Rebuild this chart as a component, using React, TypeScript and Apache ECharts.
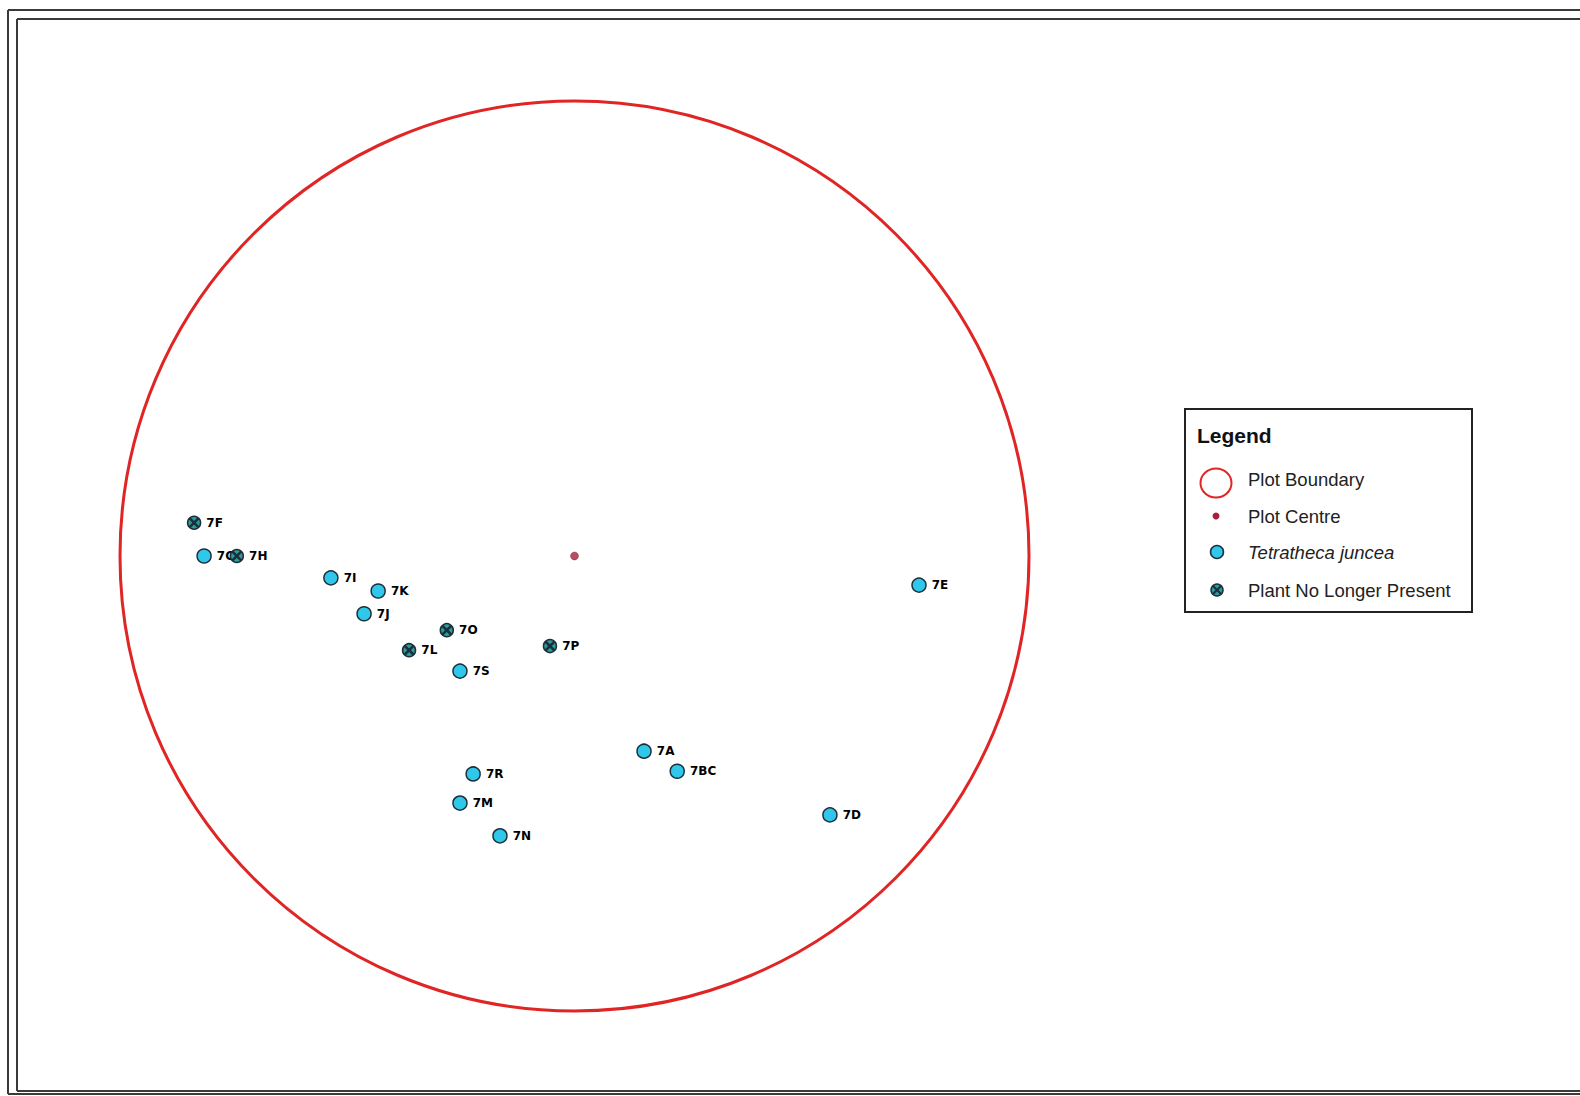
import React, { useEffect, useRef } from "react";
import * as echarts from "echarts";

// Plot coordinates in metres relative to the plot centre (plot radius = 10)
const plotRadius = 10;
const plotCentre = [0, 0];

const plantIds = ["7F", "7G", "7H", "7I", "7K", "7J", "7O", "7L", "7S", "7P", "7A", "7BC", "7R", "7M", "7N", "7D", "7E"];
const plantX = [-8.37, -8.15, -7.43, -5.36, -4.32, -4.63, -2.81, -3.64, -2.52, -0.54, 1.53, 2.26, -2.23, -2.52, -1.64, 5.62, 7.58];
const plantY = [0.73, 0.0, 0.0, -0.48, -0.77, -1.27, -1.63, -2.07, -2.53, -1.98, -4.29, -4.73, -4.79, -5.43, -6.15, -5.69, -0.64];
const plantPresent = [false, true, false, true, true, true, false, false, true, false, true, true, true, true, true, true, true];

const legendItems = ["Plot Boundary", "Plot Centre", "Tetratheca juncea", "Plant No Longer Present"];

const CYAN = "#30c8ea";
const TEAL = "#2a9e9c";
const DARK = "#1d2f3a";
const RED = "#e02525";

export default function App() {
  const ref = useRef<HTMLDivElement>(null);

  useEffect(() => {
    document.body.style.margin = "0";
    document.body.style.overflow = "hidden";
    const chart = echarts.init(ref.current!, null, { renderer: "svg" });

    const alive: any[] = [];
    const dead: any[] = [];
    plantIds.forEach((id, i) => {
      const d = [plantX[i], plantY[i], id];
      if (plantPresent[i]) alive.push(d);
      else dead.push(d);
    });

    const labelStyle = {
      show: true,
      position: "right",
      distance: 5,
      formatter: (p: any) => p.value[2],
      color: "#000",
      fontFamily: "DejaVu Sans",
      fontWeight: "bold",
      fontSize: 12,
    };

    const font = "Liberation Sans, Arial, sans-serif";
    const frame = { stroke: "#3a3a3a", lineWidth: 2 };

    chart.setOption({
      animation: false,
      backgroundColor: "#ffffff",
      grid: { left: 120, top: 101, width: 909, height: 910 },
      xAxis: { type: "value", min: -10, max: 10, show: false },
      yAxis: { type: "value", min: -10, max: 10, show: false },
      series: [
        {
          type: "custom",
          z: 1,
          data: [[plotCentre[0], plotCentre[1], plotRadius]],
          renderItem: (params: any, api: any) => {
            const c = api.coord([api.value(0), api.value(1)]);
            const s = api.size([api.value(2), api.value(2)]);
            return {
              type: "ellipse",
              shape: { cx: c[0], cy: c[1], rx: s[0], ry: s[1] },
              style: { fill: "none", stroke: RED, lineWidth: 3 },
              silent: true,
            };
          },
        },
        {
          type: "scatter",
          z: 2,
          data: [plotCentre],
          symbol: "circle",
          symbolSize: 8,
          itemStyle: { color: "#a8203c", borderColor: "#7a1a2a", borderWidth: 0.5 },
        },
        {
          type: "scatter",
          z: 3,
          data: alive,
          symbol: "circle",
          symbolSize: 14,
          itemStyle: { color: CYAN, borderColor: DARK, borderWidth: 1.5, opacity: 1 },
          label: labelStyle,
        },
        {
          type: "scatter",
          z: 4,
          data: dead,
          symbol: "circle",
          symbolSize: 13,
          itemStyle: { color: TEAL, borderColor: DARK, borderWidth: 1.5, opacity: 1 },
          label: labelStyle,
        },
        {
          type: "custom",
          z: 5,
          data: dead,
          renderItem: (params: any, api: any) => {
            const c = api.coord([api.value(0), api.value(1)]);
            const r = 4.6;
            return {
              type: "group",
              children: [
                {
                  type: "line",
                  shape: { x1: c[0] - r, y1: c[1] - r, x2: c[0] + r, y2: c[1] + r },
                  style: { stroke: DARK, lineWidth: 2.6 },
                },
                {
                  type: "line",
                  shape: { x1: c[0] - r, y1: c[1] + r, x2: c[0] + r, y2: c[1] - r },
                  style: { stroke: DARK, lineWidth: 2.6 },
                },
              ],
            };
          },
        },
      ],
      graphic: [
        { type: "line", shape: { x1: 8, y1: 10, x2: 1580, y2: 10 }, style: frame, silent: true },
        { type: "line", shape: { x1: 8, y1: 10, x2: 8, y2: 1094 }, style: frame, silent: true },
        { type: "line", shape: { x1: 8, y1: 1094, x2: 1580, y2: 1094 }, style: frame, silent: true },
        { type: "line", shape: { x1: 17, y1: 19, x2: 1580, y2: 19 }, style: frame, silent: true },
        { type: "line", shape: { x1: 17, y1: 19, x2: 17, y2: 1091 }, style: frame, silent: true },
        { type: "line", shape: { x1: 17, y1: 1091, x2: 1580, y2: 1091 }, style: frame, silent: true },
        {
          type: "group",
          children: [
            { type: "rect", shape: { x: 1185, y: 409, width: 287, height: 203 }, style: { fill: "#fff", stroke: "#222", lineWidth: 2 } },
            { type: "text", x: 1197, y: 435, style: { text: "Legend", fontFamily: font, fontWeight: "bold", fontSize: 21, fill: "#111", verticalAlign: "middle" } },
            { type: "ellipse", shape: { cx: 1216, cy: 483, rx: 15.5, ry: 14.5 }, style: { fill: "none", stroke: RED, lineWidth: 2 } },
            { type: "text", x: 1248, y: 479, style: { text: legendItems[0], fontFamily: font, fontSize: 18.5, fill: "#222", verticalAlign: "middle" } },
            { type: "circle", shape: { cx: 1216, cy: 516, r: 3.5 }, style: { fill: "#a8203c" } },
            { type: "text", x: 1248, y: 516, style: { text: legendItems[1], fontFamily: font, fontSize: 18.5, fill: "#222", verticalAlign: "middle" } },
            { type: "circle", shape: { cx: 1217, cy: 552, r: 6.5 }, style: { fill: CYAN, stroke: DARK, lineWidth: 1.5 } },
            { type: "text", x: 1248, y: 552, style: { text: legendItems[2], fontFamily: font, fontStyle: "italic", fontSize: 18.5, fill: "#222", verticalAlign: "middle" } },
            { type: "circle", shape: { cx: 1217, cy: 590, r: 6 }, style: { fill: TEAL, stroke: DARK, lineWidth: 1.5 } },
            { type: "line", shape: { x1: 1213, y1: 586, x2: 1221, y2: 594 }, style: { stroke: DARK, lineWidth: 2.2 } },
            { type: "line", shape: { x1: 1213, y1: 594, x2: 1221, y2: 586 }, style: { stroke: DARK, lineWidth: 2.2 } },
            { type: "text", x: 1248, y: 590, style: { text: legendItems[3], fontFamily: font, fontSize: 18.5, fill: "#222", verticalAlign: "middle" } },
          ],
        },
      ],
    });

    return () => chart.dispose();
  }, []);

  return <div ref={ref} style={{ width: 1580, height: 1096, overflow: "hidden" }} />;
}
